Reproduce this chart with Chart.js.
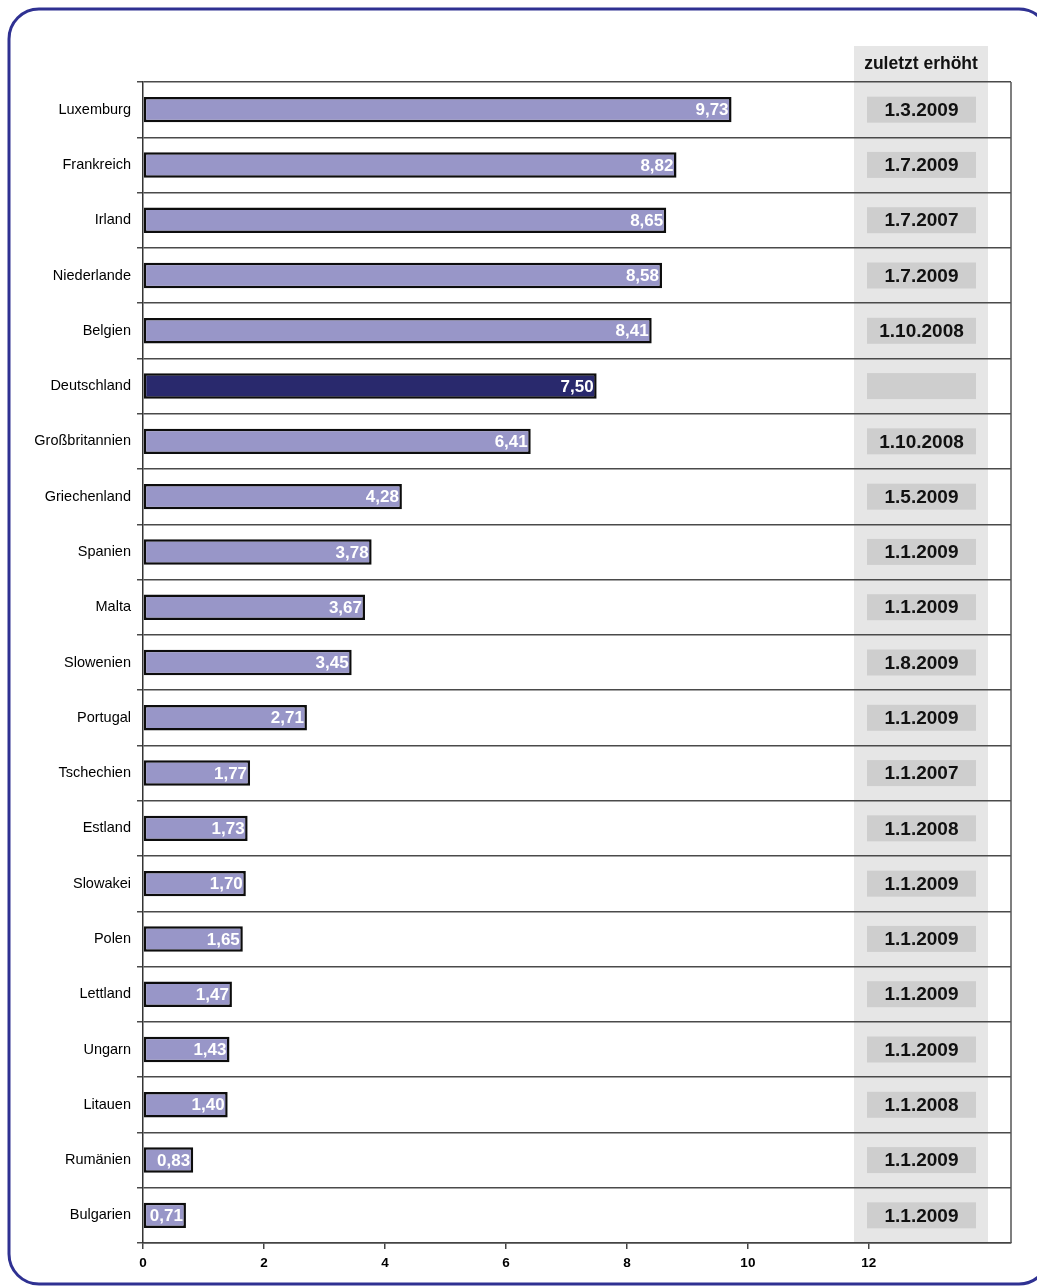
<!DOCTYPE html>
<html>
<head>
<meta charset="utf-8">
<script src="https://cdn.jsdelivr.net/npm/chart.js@4.4.1/dist/chart.umd.min.js"></script>
<style>
    html, body { margin: 0; padding: 0; background: #ffffff; }
    #wrap { position: relative; width: 1037px; height: 1288px; }
</style>
</head>
<body>
<div id="wrap"><canvas id="rateChart" width="1037" height="1288"></canvas></div>
<script>
const countries = ['Luxemburg', 'Frankreich', 'Irland', 'Niederlande', 'Belgien', 'Deutschland',
    'Großbritannien', 'Griechenland', 'Spanien', 'Malta', 'Slowenien', 'Portugal', 'Tschechien',
    'Estland', 'Slowakei', 'Polen', 'Lettland', 'Ungarn', 'Litauen', 'Rumänien', 'Bulgarien'];
const wages = [9.73, 8.82, 8.65, 8.58, 8.41, 7.50, 6.41, 4.28, 3.78, 3.67, 3.45, 2.71, 1.77,
    1.73, 1.70, 1.65, 1.47, 1.43, 1.40, 0.83, 0.71];
const lastRaised = ['1.3.2009', '1.7.2009', '1.7.2007', '1.7.2009', '1.10.2008', '',
    '1.10.2008', '1.5.2009', '1.1.2009', '1.1.2009', '1.8.2009', '1.1.2009', '1.1.2007',
    '1.1.2008', '1.1.2009', '1.1.2009', '1.1.2009', '1.1.2009', '1.1.2008', '1.1.2009', '1.1.2009'];
const xTicks = [0, 2, 4, 6, 8, 10, 12];
const columnTitle = 'zuletzt erhöht';

const FONT = '"Liberation Sans", Arial, Helvetica, sans-serif';
const barColors = countries.map(c => c === 'Deutschland' ? '#29296d' : '#9896c8');

// rounded frame round the whole figure
const framePlugin = {
    id: 'frame',
    afterDraw(chart) {
        const ctx = chart.ctx;
        ctx.save();
        ctx.strokeStyle = '#2f3192';
        ctx.lineWidth = 3;
        ctx.beginPath();
        ctx.roundRect(9, 9, 1040, 1275, 30);
        ctx.stroke();
        ctx.restore();
    }
};

// grey column for the dates, behind the grid
const dateColumnPlugin = {
    id: 'dateColumn',
    beforeDraw(chart) {
        const { ctx, chartArea } = chart;
        const left = chartArea.right - 157, right = chartArea.right - 23;
        ctx.save();
        ctx.fillStyle = '#e6e6e6';
        ctx.fillRect(left, 46, right - left, chartArea.bottom - 46);
        ctx.fillStyle = '#111111';
        ctx.font = 'bold 17.5px ' + FONT;
        ctx.textAlign = 'center';
        ctx.textBaseline = 'middle';
        ctx.fillText(columnTitle, (left + right) / 2, 64);
        ctx.restore();
    },
    afterDatasetsDraw(chart) {
        const { ctx, chartArea } = chart;
        const yScale = chart.scales.y;
        const left = chartArea.right - 144, right = chartArea.right - 35;
        ctx.save();
        ctx.font = 'bold 19px ' + FONT;
        ctx.textAlign = 'center';
        ctx.textBaseline = 'middle';
        lastRaised.forEach((d, i) => {
            const y = yScale.getPixelForValue(i);
            ctx.fillStyle = '#cecece';
            ctx.fillRect(left, y - 13, right - left, 26);
            if (d) {
                ctx.fillStyle = '#111111';
                ctx.fillText(d, (left + right) / 2, y + 1);
            }
        });
        // right edge of the plot box
        ctx.strokeStyle = '#555555';
        ctx.lineWidth = 1.5;
        ctx.beginPath();
        ctx.moveTo(chartArea.right, chartArea.top);
        ctx.lineTo(chartArea.right, chartArea.bottom);
        ctx.stroke();
        ctx.restore();
    }
};

// white values at the end of each bar
const valueLabelPlugin = {
    id: 'valueLabels',
    afterDatasetsDraw(chart) {
        const ctx = chart.ctx;
        const meta = chart.getDatasetMeta(0);
        ctx.save();
        ctx.font = 'bold 17px ' + FONT;
        ctx.fillStyle = '#ffffff';
        ctx.textAlign = 'right';
        ctx.textBaseline = 'middle';
        meta.data.forEach((bar, i) => {
            const txt = wages[i].toFixed(2).replace('.', ',');
            const w = ctx.measureText(txt).width;
            const x = Math.max(bar.x - 3, bar.base + w + 4);
            ctx.fillText(txt, x, bar.y + 1);
        });
        ctx.restore();
    }
};

new Chart(document.getElementById('rateChart').getContext('2d'), {
    type: 'bar',
    data: {
        labels: countries,
        datasets: [{
            data: wages,
            backgroundColor: barColors,
            borderColor: '#0d0d0d',
            borderWidth: 2.5,
            borderSkipped: false,
            categoryPercentage: 1,
            barPercentage: 0.46
        }]
    },
    options: {
        indexAxis: 'y',
        responsive: false,
        animation: false,
        layout: { padding: { top: 82, right: 26, left: 0, bottom: 0 } },
        plugins: {
            legend: { display: false },
            tooltip: { enabled: false }
        },
        scales: {
            x: {
                min: 0,
                max: 14.35,
                afterBuildTicks(scale) {
                    scale.ticks = xTicks.map(v => ({ value: v }));
                },
                afterFit(scale) { scale.height = 45; },
                grid: { drawOnChartArea: false, drawTicks: true, tickLength: 6, color: '#444444', lineWidth: 1.5 },
                border: { color: '#444444', width: 1.5 },
                ticks: {
                    color: '#000000',
                    font: { family: FONT, size: 13.5, weight: 'bold' },
                    padding: 6,
                    maxRotation: 0
                }
            },
            y: {
                afterFit(scale) { scale.width = 143; },
                grid: { offset: true, color: '#4a4a4a', lineWidth: 1.5, drawTicks: true, tickLength: 6 },
                border: { color: '#333333', width: 1.5 },
                ticks: {
                    color: '#000000',
                    font: { family: FONT, size: 14.5 },
                    padding: 6,
                    autoSkip: false
                }
            }
        }
    },
    plugins: [dateColumnPlugin, valueLabelPlugin, framePlugin]
});
</script>
</body>
</html>
